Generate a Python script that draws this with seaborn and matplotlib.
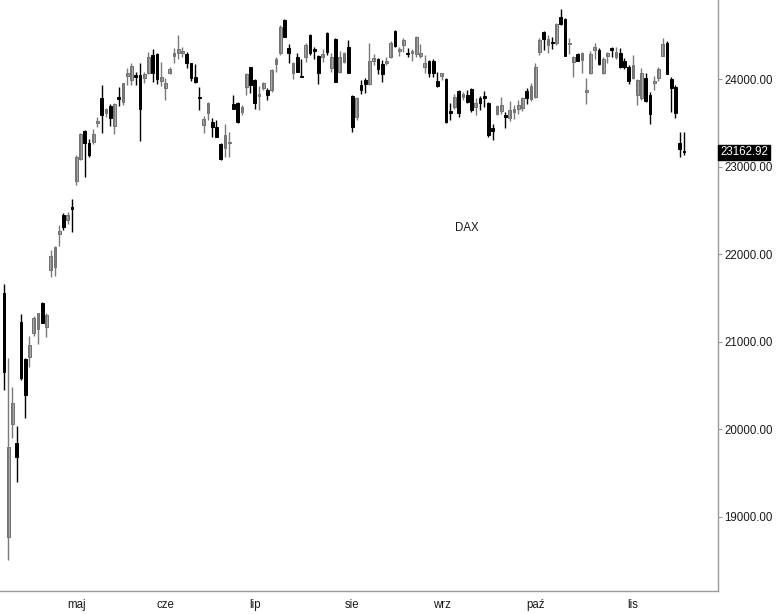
import numpy as np
import pandas as pd
import matplotlib
matplotlib.use('Agg')
import matplotlib.pyplot as plt
import matplotlib.transforms as mtransforms
import seaborn as sns

# daily OHLC of the DAX, 4 Apr - 19 Nov 2025
opens = [21560, 18773, 20060, 19847, 21221, 20799, 20822, 21096, 21142, 21446,
         21164, 21819, 21856, 22230, 22447, 22390, 22535, 22839, 23083, 23410,
         23273, 23284, 23494, 23780, 23615, 23692, 23463, 23791, 23741, 24034,
         23989, 24046, 24046, 24008, 24072, 24274, 24286, 23981, 23894, 24065,
         24263, 24293, 24301, 24286, 24179, 24019, 23791, 23475, 23616, 23512,
         23448, 23258, 23209, 23266, 23715, 23730, 23628, 23905, 24134, 23989,
         23810, 23894, 23875, 23875, 24171, 24293, 24670, 24350, 24065, 24248,
         24034, 24255, 24502, 24339, 24263, 24255, 24529, 24123, 24453, 24083,
         24198, 24362, 23806, 23563, 23931, 23989, 23943, 24209, 24225, 24171,
         24179, 24248, 24552, 24324, 24388, 24301, 24293, 24286, 24263, 24141,
         24209, 24209, 23981, 24034, 23996, 23638, 23684, 23867, 23791, 23817,
         23883, 23677, 23780, 23806, 23730, 23437, 23600, 23640, 23589, 23560,
         23620, 23660, 23665, 23867, 23772, 23792, 24312, 24541, 24388, 24426,
         24407, 24705, 24682, 24400, 24198, 24286, 24217, 23850, 24065, 24331,
         24331, 24072, 24263, 24350, 24248, 24293, 24209, 24134, 24008, 23817,
         23780, 24008, 23817, 23958, 24008, 24263, 24416, 23996, 23912, 23266,
         23175]
highs = [21660, 20810, 20479, 20037, 21316, 20810, 21065, 21293, 21331, 21450,
         21324, 22047, 22093, 22329, 22466, 22485, 22626, 23132, 23387, 23418,
         23311, 23426, 23563, 23931, 23665, 23715, 23723, 23912, 23958, 24122,
         24179, 24083, 24179, 24083, 24312, 24339, 24293, 24198, 24008, 24141,
         24350, 24500, 24370, 24312, 24187, 24171, 23912, 23577, 23741, 23551,
         23532, 23266, 23486, 23398, 23817, 23741, 23703, 24065, 24141, 23996,
         23920, 23969, 23894, 24111, 24248, 24617, 24690, 24400, 24198, 24293,
         24225, 24408, 24514, 24362, 24274, 24339, 24541, 24293, 24465, 24324,
         24312, 24445, 23817, 23791, 23989, 24008, 24416, 24286, 24236, 24217,
         24255, 24438, 24560, 24362, 24465, 24351, 24339, 24491, 24400, 24274,
         24217, 24225, 24083, 24072, 24008, 23730, 23829, 23875, 23855, 23875,
         23894, 23780, 23806, 23867, 23741, 23486, 23703, 23790, 23628, 23750,
         23700, 23760, 23800, 23900, 23950, 24179, 24465, 24553, 24502, 24476,
         24643, 24796, 24694, 24465, 24263, 24301, 24312, 24008, 24324, 24416,
         24350, 24248, 24312, 24370, 24370, 24351, 24236, 24160, 24274, 23996,
         24122, 24072, 23855, 24034, 24134, 24465, 24438, 24019, 23931, 23391,
         23398]
lows = [20450, 18507, 19897, 19401, 20560, 20125, 20715, 21065, 20974, 21210,
        21057, 21742, 21750, 22093, 22276, 22344, 22256, 22789, 23080, 22884,
        23113, 23258, 23448, 23380, 23570, 23463, 23372, 23692, 23703, 23931,
        23931, 23931, 23295, 23958, 24057, 23969, 23943, 23920, 23760, 24057,
        24179, 24225, 24255, 24122, 23981, 23960, 23646, 23387, 23532, 23341,
        23334, 23075, 23113, 23106, 23654, 23494, 23589, 23817, 23837, 23654,
        23646, 23875, 23760, 23855, 24083, 24274, 24476, 24186, 23996, 24083,
        24019, 24198, 24274, 24225, 23943, 24198, 24274, 24083, 23969, 24072,
        24179, 24065, 23398, 23532, 23829, 23837, 23931, 24160, 24057, 23969,
        24160, 24236, 24370, 24263, 24312, 24248, 24209, 24248, 24236, 24065,
        24027, 24019, 23912, 23989, 23502, 23532, 23654, 23563, 23760, 23723,
        23628, 23589, 23646, 23677, 23341, 23304, 23589, 23600, 23437, 23520,
        23540, 23600, 23640, 23720, 23750, 23780, 24274, 24331, 24301, 24339,
        24388, 24616, 24263, 24286, 24019, 24209, 24072, 23715, 24057, 24225,
        24160, 24057, 24179, 24248, 24225, 24123, 24111, 23943, 23996, 23703,
        23760, 23741, 23486, 23875, 23981, 24263, 24057, 23627, 23551, 23113,
        23132]
closes = [20657, 19801, 20296, 19680, 20582, 20388, 20962, 21267, 21324, 21217,
          21308, 21979, 22078, 22264, 22306, 22447, 22512, 23106, 23372, 23266,
          23132, 23372, 23524, 23589, 23654, 23551, 23715, 23775, 23951, 24065,
          24148, 24027, 23654, 24057, 24255, 24065, 23996, 24019, 23958, 24111,
          24301, 24339, 24323, 24187, 24008, 23969, 23780, 23540, 23723, 23448,
          23341, 23083, 23361, 23285, 23654, 23512, 23677, 24054, 23931, 23723,
          23830, 23958, 23817, 24103, 24225, 24590, 24483, 24293, 24186, 24083,
          24019, 24388, 24301, 24324, 24065, 24286, 24312, 24248, 23969, 24248,
          24293, 24072, 23448, 23780, 23875, 23943, 24209, 24236, 24111, 24057,
          24209, 24408, 24377, 24339, 24445, 24286, 24324, 24476, 24301, 24179,
          24072, 24065, 23920, 24065, 23512, 23616, 23791, 23616, 23829, 23741,
          23646, 23723, 23730, 23780, 23361, 23410, 23692, 23700, 23570, 23650,
          23660, 23700, 23780, 23780, 23916, 24141, 24445, 24453, 24453, 24407,
          24628, 24628, 24263, 24416, 24255, 24209, 24301, 23870, 24286, 24362,
          24171, 24225, 24301, 24331, 24312, 24141, 24141, 23981, 24160, 23989,
          24065, 23752, 23600, 23981, 24111, 24400, 24057, 23894, 23608, 23197,
          23162.92]
holidays = ['2025-04-18', '2025-04-21', '2025-05-01']
month_labels = ['maj', 'cze', 'lip', 'sie', 'wrz', 'paź', 'lis']

dates = pd.bdate_range('2025-04-04', '2025-11-19')
dates = dates[~dates.isin(pd.to_datetime(holidays))]
df = pd.DataFrame({'date': dates, 'open': opens, 'high': highs,
                   'low': lows, 'close': closes})
df['x'] = np.arange(len(df))
up = df[df.close >= df.open]
dn = df[df.close < df.open]

sns.set_style('white')
plt.rcParams['font.family'] = ['Liberation Sans', 'DejaVu Sans']

fig = plt.figure(figsize=(7.77, 6.14), dpi=100)
ax = fig.add_axes([0, 1 - 591 / 614, 718 / 777, 591 / 614])

# wicks then bodies
ax.vlines(up.x, up.low, up.high, color='#7a7a7a', lw=1)
ax.vlines(dn.x, dn.low, dn.high, color='black', lw=1)
ax.bar(up.x, up.close - up.open, bottom=up.open, width=0.66,
       color='#b4b4b4', edgecolor='#6e6e6e', lw=0.7)
ax.bar(dn.x, dn.open - dn.close, bottom=dn.close, width=0.66,
       color='black', edgecolor='black', lw=0.7)

# month ticks on first trading day of each month
firsts = df.groupby(df.date.dt.to_period('M')).x.first().values[1:]
ax.set_xticks(firsts)
ax.set_xticklabels(month_labels)

ax.yaxis.tick_right()
ax.set_yticks(range(19000, 25000, 1000))
ax.yaxis.set_major_formatter(matplotlib.ticker.FormatStrFormatter('%.2f'))
ax.set_xlim(-0.94, 168)
ax.set_ylim(18155, 24902)

for s in ['left', 'top']:
    ax.spines[s].set_visible(False)
for s in ['right', 'bottom']:
    ax.spines[s].set_color('#9a9a9a')
    ax.spines[s].set_linewidth(1)
ax.tick_params(axis='both', length=3, width=0.8, color='#9a9a9a',
               labelsize=8.3, labelcolor='#1a1a1a')
ax.tick_params(axis='x', pad=3)
ax.tick_params(axis='y', pad=1.5)

ax.text(0.65, 0.614, 'DAX', transform=ax.transAxes, fontsize=8.3,
        ha='center', va='center', color='#1a1a1a')

# last price tag
trans = mtransforms.blended_transform_factory(ax.transAxes, ax.transData)
ax.text(1.003, closes[-1], f'{closes[-1]:.2f}', transform=trans,
        ha='left', va='center', fontsize=8.3, color='white',
        bbox=dict(boxstyle='square,pad=0.15', fc='black', ec='black'))

fig.savefig('out.png', dpi=100)
